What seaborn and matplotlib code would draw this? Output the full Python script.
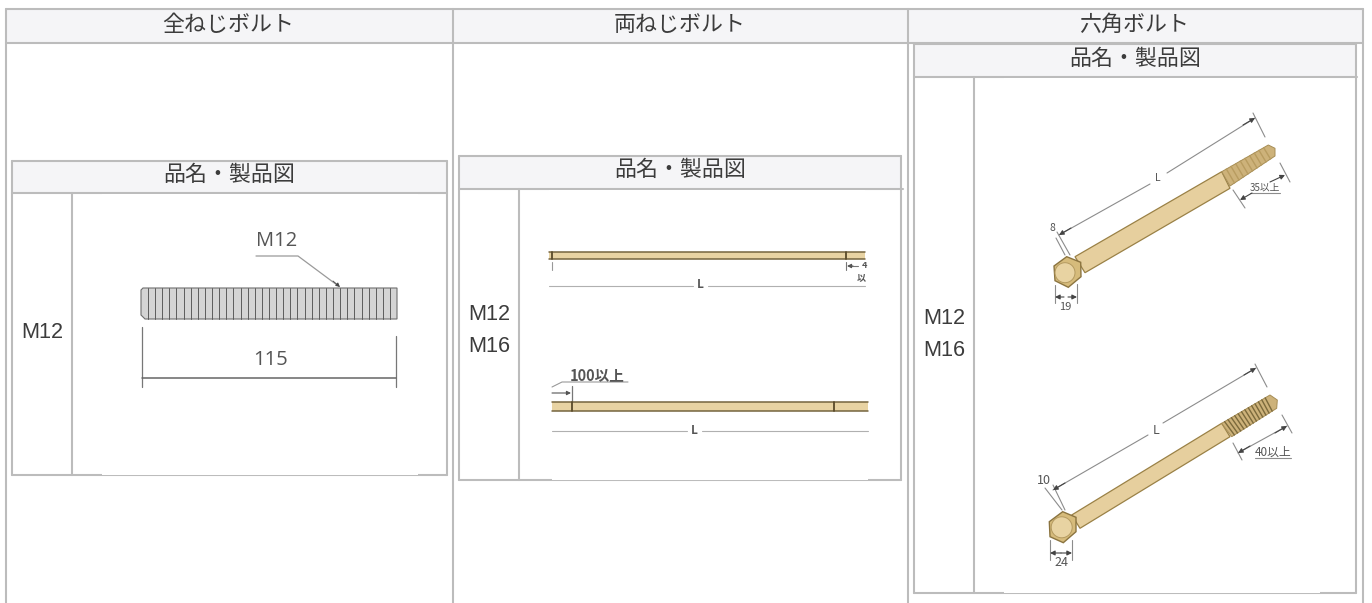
import numpy as np
import pandas as pd
import matplotlib.pyplot as plt
from matplotlib.patches import Rectangle, Circle
import seaborn as sns

sns.set_theme(style="white")
plt.rcParams["font.family"] = ["Noto Sans CJK JP", "DejaVu Sans"]

# table text
top_headers = ["全ねじボルト", "両ねじボルト", "六角ボルト"]
top_header_x = [228.5, 680, 1134]
sub_header = "品名・製品図"
sub_header_xy = [(229, 175), (680, 170), (1135, 59)]
size_labels = ["M12", "M12", "M16", "M12", "M16"]
size_label_xy = [(42, 332), (489, 315), (489, 347), (944, 318), (944, 351)]

# header fills: x0, x1, y0, y1
header_boxes = [(6, 1363, 9, 43), (12, 447, 161, 193), (459, 901, 156, 189), (915, 1356, 44, 77)]
# table rules: x0, y0, x1, y1
rules = [
    (6, 9, 1363, 9), (6, 43, 1363, 43), (6, 9, 6, 603), (453, 9, 453, 603),
    (908, 9, 908, 603), (1363, 9, 1363, 603),
    (12, 161, 447, 161), (12, 193, 447, 193), (12, 475, 447, 475), (12, 161, 12, 475),
    (72, 193, 72, 475), (447, 161, 447, 475),
    (459, 156, 901, 156), (459, 189, 903, 189), (459, 480, 901, 480), (459, 156, 459, 480),
    (519, 189, 519, 480), (901, 156, 901, 480),
    (914, 44, 1356, 44), (914, 77, 1357, 77), (914, 593, 1356, 593), (914, 44, 914, 593),
    (974, 77, 974, 593), (1356, 44, 1356, 593),
]
# pasted pictures sit on top of the rules: x0, x1, y0, y1
picture_boxes = [(102, 418, 194, 474.6), (549, 865, 189.6, 340), (552, 868, 340, 479.6), (1004, 1320, 77.6, 592.6)]

# full thread bolt
m12_thread_x = [148, 155, 162, 169, 176, 184, 191, 198, 205, 212, 219, 226, 233, 241, 248, 255, 262, 269,
                276, 283, 290, 297, 305, 312, 319, 326, 333, 340, 347, 354, 362, 369, 376, 383, 390]
m12_body = [(141, 290), (143, 288), (397, 288), (397, 319), (145, 319), (141, 315)]
m12_leader = [(256, 256), (298, 256), (337, 285)]

# double ended bolts
rod_a = (549, 865, 252, 259)
rod_a_marks = [552, 846]
rod_b = (552, 868, 402, 411)
rod_b_marks = [572, 834]

# hex bolts
hex_a = dict(
    shaft=[(1075, 256.7), (1221.7, 171.7), (1230, 188.3), (1085, 272.7)],
    thread=[(1221.7, 171.7), (1268.3, 145), (1275, 148.3), (1275, 156), (1230, 186)],
    head=[(1054, 266), (1066.7, 256.7), (1080.7, 262.3), (1081, 276.7), (1068.3, 287.3), (1055, 280.7)],
    face=(1065, 272.7, 10),
    thread_lines=[0.1, 0.2, 0.3, 0.4, 0.5, 0.6, 0.7, 0.8, 0.9],
    thread_color="#b89c60",
    dim_lines=[((1059, 235), (1150, 184)), ((1167, 173), (1255, 118)), ((1253, 113), (1265, 137)),
               ((1056, 238), (1065, 255)), ((1057, 232), (1070, 255)), ((1055, 285), (1055, 303)),
               ((1077, 284), (1077, 303)), ((1233, 190), (1245, 208)), ((1280, 163), (1290, 182)),
               ((1250, 193), (1280, 193))],
    arrows=[((1059, 235), (1071, 228)), ((1255, 118), (1243, 125)), ((1055, 297), (1064, 297)), ((1077, 297), (1068, 297)),
            ((1240, 200), (1252, 193)), ((1285, 175), (1270, 182))],
    labels=[("L", 1158, 178, 7.5), ("8", 1052, 228, 7.5), ("19", 1065, 307, 8), ("35以上", 1265, 188, 7)],
)
hex_b = dict(
    shaft=[(1071.7, 515), (1221.7, 423.3), (1230, 436.7), (1080, 528.3)],
    thread=[(1221.7, 423.3), (1270, 395), (1277.3, 400), (1276.7, 408.3), (1231.7, 436.7)],
    head=[(1049.3, 521.7), (1062.7, 511.7), (1076, 517.3), (1076, 531.7), (1063.3, 542.7), (1050, 536.7)],
    face=(1061.7, 527.3, 10.5),
    thread_lines=[0.06, 0.13, 0.2, 0.27, 0.34, 0.41, 0.48, 0.55, 0.62, 0.69, 0.76, 0.83, 0.9],
    thread_color="#7c6a3c",
    dim_lines=[((1053, 490), (1148, 435)), ((1163, 423), (1256, 368)), ((1255, 364), (1267, 387)),
               ((1045, 488), (1062, 510)), ((1053, 485), (1065, 510)), ((1050, 540), (1050, 560)),
               ((1072, 540), (1072, 560)), ((1238, 453), (1287, 426)), ((1233, 443), (1242, 460)),
               ((1282, 415), (1292, 433)), ((1255, 458), (1291, 458))],
    arrows=[((1053, 490), (1065, 483)), ((1256, 368), (1244, 375)), ((1050, 553), (1061, 553)), ((1072, 553), (1061, 553)),
            ((1238, 453), (1250, 446)), ((1287, 426), (1275, 433))],
    labels=[("L", 1156, 430, 9), ("10", 1044, 480, 9), ("24", 1061, 563, 9), ("40以上", 1273, 452, 8.5)],
)

TEXT = "#3c3c3c"
RULE = "#bcbcbc"


def draw_hex_bolt(ax, b):
    ax.fill(*zip(*b["shaft"]), facecolor="#e6cf9e", edgecolor="#9a8146", lw=0.9, zorder=3)
    ax.fill(*zip(*b["thread"]), facecolor="#cdb27a", edgecolor="#a68d55", lw=0.7, zorder=3)
    t = np.array(b["thread"])
    for f in b["thread_lines"]:
        p0 = t[0] + f * (t[1] - t[0])
        p1 = t[4] + f * (t[3] - t[4])
        ax.plot([p0[0], p1[0]], [p0[1], p1[1]], color=b["thread_color"], lw=1.0, zorder=4)
    ax.fill(*zip(*b["head"]), facecolor="#d6bb7b", edgecolor="#8b7440", lw=1.0, zorder=5)
    cx, cy, r = b["face"]
    ax.add_patch(Circle((cx, cy), r, facecolor="#e8d3a2", edgecolor="#b49a60", lw=0.7, zorder=6))
    for p0, p1 in b["dim_lines"]:
        ax.plot([p0[0], p1[0]], [p0[1], p1[1]], color="#8c8c8c", lw=0.8, zorder=3)
    for p0, p1 in b["arrows"]:
        ax.annotate("", xy=p0, xytext=p1, zorder=4,
                    arrowprops=dict(arrowstyle="-|>", color="#444444", lw=0.8, mutation_scale=7, shrinkA=0, shrinkB=0))
    for s, x, y, fs in b["labels"]:
        ax.text(x, y, s, ha="center", va="center", fontsize=fs, color="#555555", zorder=7)


def draw_rod(ax, rod, marks):
    x0, x1, y0, y1 = rod
    ax.add_patch(Rectangle((x0, y0), x1 - x0, y1 - y0, facecolor="#e8d3a3", edgecolor="none", zorder=3))
    ax.plot([x0, x1], [y0, y0], color="#75653f", lw=1.1, zorder=4)
    ax.plot([x0, x1], [y1, y1], color="#75653f", lw=1.1, zorder=4)
    for m in marks:
        ax.plot([m, m], [y0, y1], color="#5a4a2a", lw=1.3, zorder=4)


fig = plt.figure(figsize=(13.72, 6.03), dpi=100)
ax = fig.add_axes([0, 0, 1, 1])

# header backgrounds
for x0, x1, y0, y1 in header_boxes:
    ax.fill_between([x0, x1], y0, y1, color="#f5f5f7", lw=0, zorder=0)

# table rules
rule_df = pd.DataFrame(
    [(i, x, y) for i, (x0, y0, x1, y1) in enumerate(rules) for x, y in ((x0, y0), (x1, y1))],
    columns=["rule", "x", "y"],
)
sns.lineplot(data=rule_df, x="x", y="y", units="rule", estimator=None, sort=False,
             color=RULE, lw=1.5, ax=ax, zorder=1, legend=False)

# pictures cover half of the rule below them
for x0, x1, y0, y1 in picture_boxes:
    ax.add_patch(Rectangle((x0, y0), x1 - x0, y1 - y0, facecolor="white", edgecolor="none", zorder=2))

# full thread bolt
ax.fill(*zip(*m12_body), facecolor="#d4d4d4", edgecolor="#6e6e6e", lw=0.8, zorder=3)
for x in m12_thread_x:
    ax.plot([x, x], [288, 319], color="#5c5c5c", lw=0.7, zorder=4)
ax.plot(*zip(*m12_leader), color="#9a9a9a", lw=0.9, zorder=3)
ax.annotate("", xy=(340, 287), xytext=(333, 281), zorder=4,
            arrowprops=dict(arrowstyle="-|>", color="#444444", lw=0.6, mutation_scale=6, shrinkA=0, shrinkB=0))
ax.text(277, 241, "M12", ha="center", va="center", fontsize=14.5, color="#555555", family="Open Sans", zorder=5)
ax.plot([142, 142], [327, 387], color="#777777", lw=0.9, zorder=3)
ax.plot([396, 396], [336, 387], color="#777777", lw=0.9, zorder=3)
ax.plot([142, 396], [378, 378], color="#666666", lw=1.1, zorder=3)
ax.text(271, 360, "115", ha="center", va="center", fontsize=14.5, color="#555555", family="Open Sans", zorder=5)

# double ended bolts
draw_rod(ax, rod_a, rod_a_marks)
draw_rod(ax, rod_b, rod_b_marks)
ax.plot([549, 693], [285.5, 285.5], color="#b0b0b0", lw=0.8, zorder=3)
ax.plot([708, 865], [285.5, 285.5], color="#b0b0b0", lw=0.8, zorder=3)
ax.text(700, 285, "L", ha="center", va="center", fontsize=8.5, fontweight="bold", color="#555555", zorder=5)
ax.plot([552, 552], [262, 270], color="#999999", lw=0.8, zorder=3)
ax.plot([846, 846], [262, 270], color="#777777", lw=0.8, zorder=3)
ax.plot([852, 858], [266, 266], color="#777777", lw=0.8, zorder=3)
ax.annotate("", xy=(847, 266), xytext=(853, 266), zorder=4,
            arrowprops=dict(arrowstyle="-|>", color="#555555", lw=0.8, mutation_scale=6, shrinkA=0, shrinkB=0))
clip_a = Rectangle((549, 189), 316, 150, facecolor="none", edgecolor="none")
ax.add_patch(clip_a)
ax.text(861, 277.5, "以", ha="center", va="center", fontsize=6.5, fontweight="bold", color="#555555",
        zorder=5, clip_on=True, clip_path=clip_a)
ax.text(864, 265, "4", ha="center", va="center", fontsize=6.5, fontweight="bold", color="#555555",
        zorder=5, clip_on=True, clip_path=clip_a)

ax.plot([552, 687], [431, 431], color="#b0b0b0", lw=0.8, zorder=3)
ax.plot([702, 868], [431, 431], color="#b0b0b0", lw=0.8, zorder=3)
ax.text(694, 431, "L", ha="center", va="center", fontsize=8.5, fontweight="bold", color="#555555", zorder=5)
ax.text(597, 375, "100以上", ha="center", va="center", fontsize=10.5, fontweight="bold", color="#555555", zorder=5)
ax.plot([552, 562, 628], [387, 382, 382], color="#999999", lw=0.8, zorder=3)
ax.plot([572, 572], [386, 402], color="#777777", lw=0.9, zorder=3)
ax.annotate("", xy=(571, 393), xytext=(552, 393), zorder=4,
            arrowprops=dict(arrowstyle="-|>", color="#555555", lw=0.8, mutation_scale=6, shrinkA=0, shrinkB=0))

# hex bolts
draw_hex_bolt(ax, hex_a)
draw_hex_bolt(ax, hex_b)

# table text on top
for s, x in zip(top_headers, top_header_x):
    ax.text(x, 25, s, ha="center", va="center", fontsize=15.8, color=TEXT, zorder=8)
for x, y in sub_header_xy:
    ax.text(x, y, sub_header, ha="center", va="center", fontsize=15.8, color=TEXT, zorder=8)
for s, (x, y) in zip(size_labels, size_label_xy):
    ax.text(x, y, s, ha="center", va="center", fontsize=15.6, color=TEXT, family="Liberation Sans", zorder=8)

ax.set_xlim(0, 1372)
ax.set_ylim(603, 0)
ax.set_xlabel("")
ax.set_ylabel("")
ax.axis("off")

fig.savefig("out.png", dpi=100, facecolor="white")
